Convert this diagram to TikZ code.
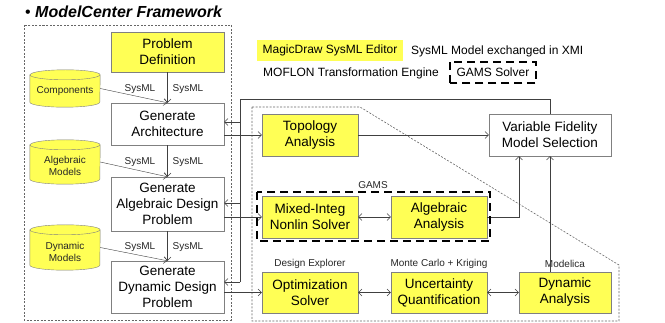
\documentclass[tikz,border=0pt]{standalone}
\usepackage{fontspec}
\setmainfont{Liberation Sans}
\usetikzlibrary{arrows.meta,calc}
\definecolor{boxyellow}{RGB}{255,255,85}
\definecolor{boxgray}{RGB}{128,128,128}
\definecolor{linegray}{RGB}{64,64,64}
\tikzset{
  box/.style={draw=boxgray, fill=boxyellow, align=center, inner sep=0pt,
    font=\fontsize{13.5}{16}\selectfont},
  wbox/.style={box, fill=white},
  conn/.style={draw=linegray, -{Straight Barb[length=3.5pt,width=7pt]}},
  both/.style={draw=linegray, {Straight Barb[length=3.5pt,width=7pt]}-{Straight Barb[length=3.5pt,width=7pt]}},
  tag/.style={font=\fontsize{10}{12}\selectfont, text=black!85, inner sep=1pt},
  legend/.style={font=\fontsize{12}{14}\selectfont, inner sep=0pt},
  frame/.style={draw=black!60, dash pattern=on 2pt off 1.5pt, line width=0.6pt},
  gams/.style={draw=black, dash pattern=on 8pt off 5pt, line width=2.4pt},
}
% data store: name, centre x, centre y, width, height
\def\dbcyl#1(#2,#3)(#4:#5){%
  \node[minimum width=#4, minimum height=#5, inner sep=0pt] (#1) at (#2,#3) {};
  \draw[boxgray, fill=boxyellow] ($(#1.north west)+(0,5)$) -- ($(#1.south west)+(0,-5)$)
    arc[start angle=180, end angle=360, x radius={#4/2*1pt}, y radius=5pt]
    -- ($(#1.north east)+(0,5)$)
    arc[start angle=0, end angle=180, x radius={#4/2*1pt}, y radius=5pt] -- cycle;
  \draw[boxgray] ($(#1.north west)+(0,5)$)
    arc[start angle=180, end angle=360, x radius={#4/2*1pt}, y radius=5pt];
}
\begin{document}
\begin{tikzpicture}[x=1pt, y=-1pt]
			%%%%% START %%%%%
			\useasboundingbox (0,0) rectangle (665,323);
			
			\node[anchor=west, inner sep=0pt, font=\fontsize{16}{18}\selectfont] (title) at (25,12)
			{\textbullet\ \textbf{\textit{ModelCenter Framework}}};
			
			% frames
			\draw[frame] (24,25) rectangle (231,320);
			\draw[frame] (252,107) -- (360,107) -- (619,265) -- (619,321) -- (252,321) -- cycle;
			
			% legend
			\node[legend, fill=boxyellow, minimum width=146, minimum height=21] (magic) at (330,50.5) {MagicDraw SysML Editor};
			\node[legend, anchor=west] (xmi) at (411,51) {SysML Model exchanged in XMI};
			\node[legend, anchor=west] (moflon) at (263,73) {MOFLON Transformation Engine};
			\node[legend, minimum width=86, minimum height=21] (solver) at (493,72.5) {GAMS Solver};
			\draw[gams] (solver.south west) rectangle (solver.north east);
			
			% modelcenter column
			\node[box, minimum width=113, minimum height=40] (prob) at (167.5,52) {Problem\\Definition};
			\node[wbox, minimum width=113, minimum height=42] (arch) at (167.5,124) {Generate\\Architecture};
			\node[wbox, minimum width=113, minimum height=54] (alg) at (167.5,204) {Generate\\Algebraic Design\\Problem};
			\node[wbox, minimum width=113, minimum height=52] (dyn) at (167.5,287) {Generate\\Dynamic Design\\Problem};
			
			\dbcyl{comp}(65,88.5)(70:37)
			\dbcyl{algm}(65,162)(70:44)
			\dbcyl{dynm}(65,247.5)(70:45)
			\node[tag] (compt) at (65,91.5) {Components};
			\node[tag, align=center] (algmt) at (65,166) {Algebraic\\Models};
			\node[tag, align=center] (dynmt) at (65,251.5) {Dynamic\\Models};
			
			\draw[conn] (prob.south) -- (arch.north);
			\draw[conn] (comp.east) -- (arch.north);
			\draw[conn] (arch.south) -- (alg.north);
			\draw[conn] (algm.east) -- (alg.north);
			\draw[conn] (alg.south) -- (dyn.north);
			\draw[conn] (dynm.east) -- (dyn.north);
			
			\node[tag] (s1a) at (140,89) {SysML};
			\node[tag] (s1b) at (188,89) {SysML};
			\node[tag] (s2a) at (140,162) {SysML};
			\node[tag] (s2b) at (188,162) {SysML};
			\node[tag] (s3a) at (140,247) {SysML};
			\node[tag] (s3b) at (188,247) {SysML};
			
			% analysis tools
			\node[box, minimum width=96, minimum height=42] (topo) at (310,135) {Topology\\Analysis};
			\node[wbox, minimum width=122, minimum height=42] (vfms) at (550,135) {Variable Fidelity\\Model Selection};
			\node[box, minimum width=96, minimum height=42] (mixed) at (310,217) {Mixed-Integ\\Nonlin Solver};
			\node[box, minimum width=96, minimum height=42] (alga) at (439,217) {Algebraic\\Analysis};
			\node[box, minimum width=96, minimum height=41] (opt) at (310,292.5) {Optimization\\Solver};
			\node[box, minimum width=96, minimum height=41] (unc) at (439,292.5) {Uncertainty\\Quantification};
			\node[box, minimum width=92, minimum height=41] (dyna) at (565,292.5) {Dynamic\\Analysis};
			
			\node[tag] (gamslbl) at (373,185) {GAMS};
			\node[tag] (explorer) at (310,264) {Design Explorer};
			\node[tag] (kriging) at (439,264) {Monte Carlo + Kriging};
			\node[tag] (modelica) at (565,264) {Modelica};
			
			% feedback from model selection
			\coordinate (fbtop) at (240,99);
			\coordinate (fa) at (240,122);
			\coordinate (fb) at (240,203);
			\coordinate (fc) at (240,282);
			\draw[linegray] (vfms.north) |- (fbtop) -- (fc);
			\draw[conn] (fa) -- (arch.east |- fa);
			\draw[conn] (fb) -- (alg.east |- fb);
			\draw[conn] (fc) -- (dyn.east |- fc);
			
			\draw[conn] (arch.east |- topo.west) -- (topo.west);
			\draw[conn] (alg.east |- mixed.west) -- (mixed.west);
			\draw[conn] (dyn.east |- opt.west) -- (opt.west);
			
			\draw[conn] (topo.east) -- (vfms.west);
			\draw[both] (mixed.east) -- (alga.west);
			\draw[conn] (alga.east) -| ([xshift=-31pt]vfms.south);
			\draw[conn] (dyna.north -| vfms.south) -- (vfms.south);
			\draw[both] (opt.east) -- (unc.west);
			\draw[both] (unc.east) -- (dyna.west);
			
			\draw[gams] (257,192) rectangle (490,241);
			%%%%% END %%%%%
\end{tikzpicture}
\end{document}
